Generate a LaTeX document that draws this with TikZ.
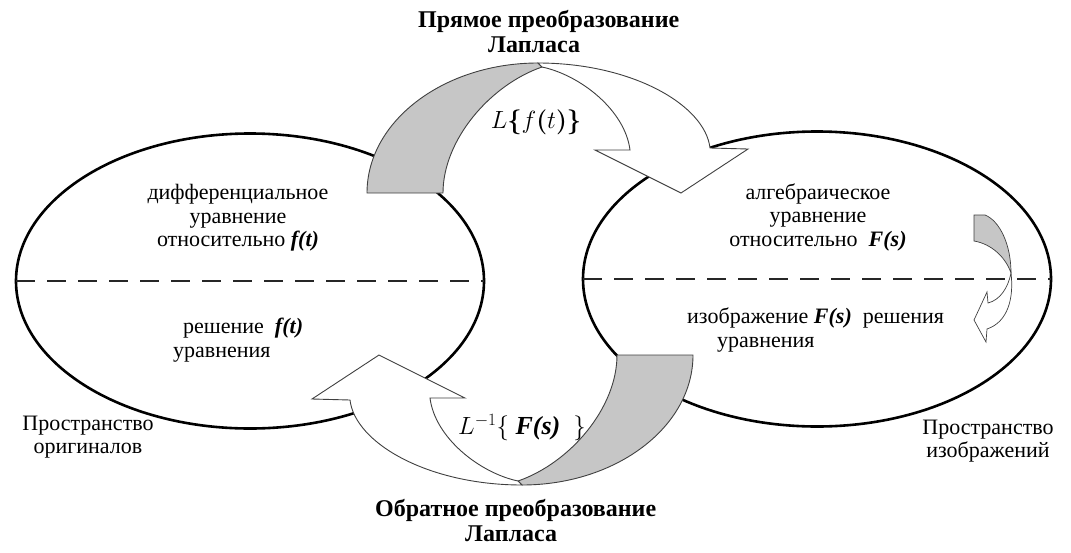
\documentclass[tikz,border=0pt]{standalone}
\usepackage{amsmath}
\usepackage{fontspec}
\setmainfont{Liberation Serif}
\usetikzlibrary{shapes.geometric}
\tikzset{
	space/.style={draw=black, line width=2.6pt, ellipse, inner sep=0pt, outer sep=0pt,
			minimum width=468pt, minimum height=295pt},
	split/.style={dash pattern=on 19pt off 12pt, line width=1.8pt, black!85},
	band/.style={draw=black!75, line width=0.9pt, line join=miter},
	txt/.style={font=\fontsize{22}{23.5}\selectfont, inner sep=0pt},
	heading/.style={font=\fontsize{24}{25}\selectfont\bfseries, inner sep=0pt, align=left},
	formula/.style={font=\fontsize{26}{28}\selectfont, inner sep=0pt},
	pics/bandarrow/.style={code={
		\filldraw [band, fill=gray!45] (-163,-81) .. controls (-163,-153) and (-86,-211) .. (8,-211)
			-- (12,-207) .. controls (-40,-189) and (-87,-134) .. (-87,-81) -- cycle;
		\filldraw [band, fill=white] (8,-211) .. controls (102,-211) and (175,-169) .. (180,-126)
			-- (218,-125) -- (151,-81) -- (65,-124) -- (100,-124)
			.. controls (95,-164) and (50,-199) .. (12,-207) -- cycle;
	}}
}

\begin{document}
\begin{tikzpicture}[x=1pt, y=-1pt]
		\useasboundingbox (0,0) rectangle (1071,552);

		\node [space] (orig) at (250,281) {};
		\node [space] (img)  at (817,279) {};
		\draw [split] (orig.west) -- (orig.east);
		\draw [split] (img.west) -- (img.east);

		% forward and inverse transform
		\pic at (530,274) {bandarrow};
		\pic [rotate=180] at (530,274) {bandarrow};

		% small arrow inside the image space
		\filldraw [band, line width=0.7pt, fill=gray!45] (974,215) -- (985,215)
			.. controls (1000,221) and (1011,245) .. (1011,273)
			.. controls (1006,258) and (992,244) .. (974,241) -- cycle;
		\filldraw [band, line width=0.7pt, fill=white] (1011,273)
			.. controls (1014,298) and (1008,322) .. (987,329)
			-- (986,342) -- (974,320) -- (987,292) -- (988,303)
			.. controls (1000,300) and (1008,288) .. (1011,273) -- cycle;

		\node [heading, anchor=west] (direct) at (418,32) {Прямое преобразование\\\hspace*{70pt}Лапласа};
		\node [heading, anchor=west] (inverse) at (375,521) {Обратное преобразование\\\hspace*{90pt}Лапласа};

		\node [formula] (fwd) at (536,122) {$L\boldsymbol{\{}f\boldsymbol{(}t\boldsymbol{)\}}$};
		\node [formula] (bwd) at (522,428) {$L^{-1}\{$\ \textbf{\textit{F(s)}}\ \ $\}$};

		\node [txt, align=center] (diffeq) at (238,218) {дифференциальное\\уравнение\\относительно \textbf{\textit{f(t)}}};
		\node [txt, align=left, anchor=west] (solution) at (173,340) {\hspace*{10pt}решение\ \ \textbf{\textit{f(t)}}\\уравнения};
		\node [txt, align=center] (originals) at (88,437) {Пространство\\оригиналов};

		\node [txt, align=center] (algeq) at (818,217) {алгебраическое\\уравнение\\относительно \ \textbf{\textit{F(s)}}};
		\node [txt, align=left, anchor=west] (imagesol) at (687,330) {изображение \textbf{\textit{F(s)}}\ \ решения\\\hspace*{30pt}уравнения};
		\node [txt, align=center] (images) at (988,441) {Пространство\\изображений};
	\end{tikzpicture}
\end{document}
